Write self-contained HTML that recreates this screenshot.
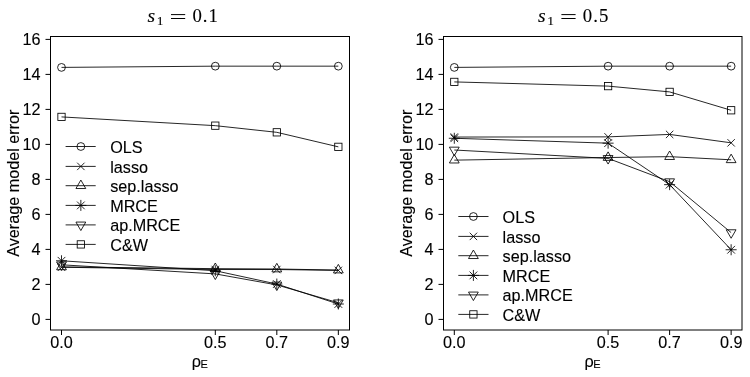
<!DOCTYPE html><html><head><meta charset="utf-8"><style>html,body{margin:0;padding:0;background:#fff;}svg{display:block}#w{filter:grayscale(1)}text{font-family:"Liberation Sans",sans-serif;fill:#000;stroke:#000;stroke-width:0.12px}.ser{font-family:"Liberation Serif",serif}</style></head><body>
<div id="w"><svg width="750" height="377" viewBox="0 0 750 377">
<rect width="750" height="377" fill="#fff"/>
<g fill="none" stroke="#000" stroke-width="1"><rect x="50.5" y="36.5" width="299.0" height="293.5"/><path d="M45.5 319.40H50.5"/><path d="M45.5 284.40H50.5"/><path d="M45.5 249.40H50.5"/><path d="M45.5 214.40H50.5"/><path d="M45.5 179.40H50.5"/><path d="M45.5 144.40H50.5"/><path d="M45.5 109.40H50.5"/><path d="M45.5 74.40H50.5"/><path d="M45.5 39.40H50.5"/><path d="M61.50 330.0V335.0"/><path d="M215.30 330.0V335.0"/><path d="M276.82 330.0V335.0"/><path d="M338.34 330.0V335.0"/><g stroke-width="0.85"><polyline points="61.50,67.40 215.30,66.17 276.82,66.17 338.34,66.17"/><circle cx="61.50" cy="67.40" r="3.90"/><circle cx="215.30" cy="66.17" r="3.90"/><circle cx="276.82" cy="66.17" r="3.90"/><circle cx="338.34" cy="66.17" r="3.90"/><polyline points="61.50,267.25 215.30,269.52 276.82,269.52 338.34,270.40"/><path d="M57.80 263.55L65.20 270.95M57.80 270.95L65.20 263.55"/><path d="M211.60 265.82L219.00 273.22M211.60 273.22L219.00 265.82"/><path d="M273.12 265.82L280.52 273.22M273.12 273.22L280.52 265.82"/><path d="M334.64 266.70L342.04 274.10M334.64 274.10L342.04 266.70"/><polyline points="61.50,266.90 215.30,268.65 276.82,269.00 338.34,270.05"/><path d="M61.50 261.24L66.40 269.73L56.60 269.73Z"/><path d="M215.30 262.99L220.20 271.48L210.40 271.48Z"/><path d="M276.82 263.34L281.72 271.83L271.92 271.83Z"/><path d="M338.34 264.39L343.24 272.88L333.44 272.88Z"/><polyline points="61.50,260.77 215.30,270.75 276.82,284.05 338.34,304.00"/><path d="M57.65 256.92L65.35 264.62M57.65 264.62L65.35 256.92M56.00 260.77L67.00 260.77M61.50 255.27L61.50 266.27"/><path d="M211.45 266.90L219.15 274.60M211.45 274.60L219.15 266.90M209.80 270.75L220.80 270.75M215.30 265.25L215.30 276.25"/><path d="M272.97 280.20L280.67 287.90M272.97 287.90L280.67 280.20M271.32 284.05L282.32 284.05M276.82 278.55L276.82 289.55"/><path d="M334.49 300.15L342.19 307.85M334.49 307.85L342.19 300.15M332.84 304.00L343.84 304.00M338.34 298.50L338.34 309.50"/><polyline points="61.50,264.80 215.30,273.90 276.82,284.92 338.34,302.77"/><path d="M61.50 270.46L66.40 261.97L56.60 261.97Z"/><path d="M215.30 279.56L220.20 271.07L210.40 271.07Z"/><path d="M276.82 290.59L281.72 282.09L271.92 282.09Z"/><path d="M338.34 308.44L343.24 299.94L333.44 299.94Z"/><polyline points="61.50,116.92 215.30,125.67 276.82,132.32 338.34,146.85"/><rect x="57.85" y="113.27" width="7.30" height="7.30"/><rect x="211.65" y="122.02" width="7.30" height="7.30"/><rect x="273.17" y="128.67" width="7.30" height="7.30"/><rect x="334.69" y="143.20" width="7.30" height="7.30"/><path d="M65.60 146.50H95.70"/><circle cx="80.85" cy="146.50" r="3.90"/><path d="M65.60 166.40H95.70"/><path d="M77.15 162.70L84.55 170.10M77.15 170.10L84.55 162.70"/><path d="M65.60 185.70H95.70"/><path d="M80.85 180.04L85.75 188.53L75.95 188.53Z"/><path d="M65.60 205.40H95.70"/><path d="M77.00 201.55L84.70 209.25M77.00 209.25L84.70 201.55M75.35 205.40L86.35 205.40M80.85 199.90L80.85 210.90"/><path d="M65.60 224.90H95.70"/><path d="M80.85 230.56L85.75 222.07L75.95 222.07Z"/><path d="M65.60 244.40H95.70"/><rect x="77.20" y="240.75" width="7.30" height="7.30"/></g></g><text x="40.50" y="324.90" font-size="16.2" text-anchor="end">0</text><text x="40.50" y="289.90" font-size="16.2" text-anchor="end">2</text><text x="40.50" y="254.90" font-size="16.2" text-anchor="end">4</text><text x="40.50" y="219.90" font-size="16.2" text-anchor="end">6</text><text x="40.50" y="184.90" font-size="16.2" text-anchor="end">8</text><text x="40.50" y="149.90" font-size="16.2" text-anchor="end">10</text><text x="40.50" y="114.90" font-size="16.2" text-anchor="end">12</text><text x="40.50" y="79.90" font-size="16.2" text-anchor="end">14</text><text x="40.50" y="44.90" font-size="16.2" text-anchor="end">16</text><text x="61.50" y="347.5" font-size="16.2" text-anchor="middle">0.0</text><text x="215.30" y="347.5" font-size="16.2" text-anchor="middle">0.5</text><text x="276.82" y="347.5" font-size="16.2" text-anchor="middle">0.7</text><text x="338.34" y="347.5" font-size="16.2" text-anchor="middle">0.9</text><text x="110.20" y="153.00" font-size="16.2">OLS</text><text x="110.20" y="172.50" font-size="16.2">lasso</text><text x="110.20" y="192.00" font-size="16.2">sep.lasso</text><text x="110.20" y="211.50" font-size="16.2">MRCE</text><text x="110.20" y="231.00" font-size="16.2">ap.MRCE</text><text x="110.20" y="250.50" font-size="16.2">C&amp;W</text><text transform="translate(18.70,183.2) rotate(-90)" font-size="16.2" text-anchor="middle">Average model error</text><text x="191.70" y="366.5" font-size="16.2">&#961;<tspan font-size="11" dy="1.8" dx="-0.4">E</tspan></text><text class="ser" x="147.60" y="21.8" font-size="19.5" font-style="italic">s</text><text class="ser" x="156.80" y="24.6" font-size="13.5">1</text><path d="M171.00 14.60H185.20M171.00 18.5H185.20" stroke="#000" stroke-width="1.0" fill="none"/><text class="ser" x="192.40" y="21.7" font-size="18.8" letter-spacing="1.0">0.1</text>
<g fill="none" stroke="#000" stroke-width="1"><rect x="443.5" y="36.5" width="298.5" height="293.5"/><path d="M438.5 319.40H443.5"/><path d="M438.5 284.40H443.5"/><path d="M438.5 249.40H443.5"/><path d="M438.5 214.40H443.5"/><path d="M438.5 179.40H443.5"/><path d="M438.5 144.40H443.5"/><path d="M438.5 109.40H443.5"/><path d="M438.5 74.40H443.5"/><path d="M438.5 39.40H443.5"/><path d="M454.30 330.0V335.0"/><path d="M608.10 330.0V335.0"/><path d="M669.62 330.0V335.0"/><path d="M731.14 330.0V335.0"/><g stroke-width="0.85"><polyline points="454.30,67.40 608.10,66.17 669.62,66.17 731.14,66.17"/><circle cx="454.30" cy="67.40" r="3.90"/><circle cx="608.10" cy="66.17" r="3.90"/><circle cx="669.62" cy="66.17" r="3.90"/><circle cx="731.14" cy="66.17" r="3.90"/><polyline points="454.30,137.05 608.10,136.87 669.62,134.42 731.14,142.82"/><path d="M450.60 133.35L458.00 140.75M450.60 140.75L458.00 133.35"/><path d="M604.40 133.17L611.80 140.57M604.40 140.57L611.80 133.17"/><path d="M665.92 130.72L673.32 138.12M665.92 138.12L673.32 130.72"/><path d="M727.44 139.12L734.84 146.52M727.44 146.52L734.84 139.12"/><polyline points="454.30,160.15 608.10,157.52 669.62,156.65 731.14,159.80"/><path d="M454.30 154.49L459.20 162.98L449.40 162.98Z"/><path d="M608.10 151.86L613.00 160.36L603.20 160.36Z"/><path d="M669.62 150.99L674.52 159.48L664.72 159.48Z"/><path d="M731.14 154.14L736.04 162.63L726.24 162.63Z"/><polyline points="454.30,138.27 608.10,143.17 669.62,184.65 731.14,249.75"/><path d="M450.45 134.42L458.15 142.12M450.45 142.12L458.15 134.42M448.80 138.27L459.80 138.27M454.30 132.77L454.30 143.77"/><path d="M604.25 139.32L611.95 147.02M604.25 147.02L611.95 139.32M602.60 143.17L613.60 143.17M608.10 137.67L608.10 148.67"/><path d="M665.77 180.80L673.47 188.50M665.77 188.50L673.47 180.80M664.12 184.65L675.12 184.65M669.62 179.15L669.62 190.15"/><path d="M727.29 245.90L734.99 253.60M727.29 253.60L734.99 245.90M725.64 249.75L736.64 249.75M731.14 244.25L731.14 255.25"/><polyline points="454.30,150.00 608.10,158.40 669.62,181.67 731.14,232.60"/><path d="M454.30 155.66L459.20 147.17L449.40 147.17Z"/><path d="M608.10 164.06L613.00 155.57L603.20 155.57Z"/><path d="M669.62 187.34L674.52 178.84L664.72 178.84Z"/><path d="M731.14 238.26L736.04 229.77L726.24 229.77Z"/><polyline points="454.30,81.92 608.10,86.12 669.62,91.90 731.14,110.27"/><rect x="450.65" y="78.27" width="7.30" height="7.30"/><rect x="604.45" y="82.47" width="7.30" height="7.30"/><rect x="665.97" y="88.25" width="7.30" height="7.30"/><rect x="727.49" y="106.62" width="7.30" height="7.30"/><path d="M458.30 216.50H488.50"/><circle cx="473.40" cy="216.50" r="3.90"/><path d="M458.30 236.40H488.50"/><path d="M469.70 232.70L477.10 240.10M469.70 240.10L477.10 232.70"/><path d="M458.30 255.70H488.50"/><path d="M473.40 250.04L478.30 258.53L468.50 258.53Z"/><path d="M458.30 275.40H488.50"/><path d="M469.55 271.55L477.25 279.25M469.55 279.25L477.25 271.55M467.90 275.40L478.90 275.40M473.40 269.90L473.40 280.90"/><path d="M458.30 294.90H488.50"/><path d="M473.40 300.56L478.30 292.07L468.50 292.07Z"/><path d="M458.30 314.40H488.50"/><rect x="469.75" y="310.75" width="7.30" height="7.30"/></g></g><text x="433.50" y="324.90" font-size="16.2" text-anchor="end">0</text><text x="433.50" y="289.90" font-size="16.2" text-anchor="end">2</text><text x="433.50" y="254.90" font-size="16.2" text-anchor="end">4</text><text x="433.50" y="219.90" font-size="16.2" text-anchor="end">6</text><text x="433.50" y="184.90" font-size="16.2" text-anchor="end">8</text><text x="433.50" y="149.90" font-size="16.2" text-anchor="end">10</text><text x="433.50" y="114.90" font-size="16.2" text-anchor="end">12</text><text x="433.50" y="79.90" font-size="16.2" text-anchor="end">14</text><text x="433.50" y="44.90" font-size="16.2" text-anchor="end">16</text><text x="454.30" y="347.5" font-size="16.2" text-anchor="middle">0.0</text><text x="608.10" y="347.5" font-size="16.2" text-anchor="middle">0.5</text><text x="669.62" y="347.5" font-size="16.2" text-anchor="middle">0.7</text><text x="731.14" y="347.5" font-size="16.2" text-anchor="middle">0.9</text><text x="502.60" y="223.00" font-size="16.2">OLS</text><text x="502.60" y="242.50" font-size="16.2">lasso</text><text x="502.60" y="262.00" font-size="16.2">sep.lasso</text><text x="502.60" y="281.50" font-size="16.2">MRCE</text><text x="502.60" y="301.00" font-size="16.2">ap.MRCE</text><text x="502.60" y="320.50" font-size="16.2">C&amp;W</text><text transform="translate(411.70,183.2) rotate(-90)" font-size="16.2" text-anchor="middle">Average model error</text><text x="584.50" y="366.5" font-size="16.2">&#961;<tspan font-size="11" dy="1.8" dx="-0.4">E</tspan></text><text class="ser" x="538.00" y="21.8" font-size="19.5" font-style="italic">s</text><text class="ser" x="547.20" y="24.6" font-size="13.5">1</text><path d="M561.40 14.60H575.60M561.40 18.5H575.60" stroke="#000" stroke-width="1.0" fill="none"/><text class="ser" x="582.80" y="21.7" font-size="18.8" letter-spacing="1.0">0.5</text>
</svg></div></body></html>
